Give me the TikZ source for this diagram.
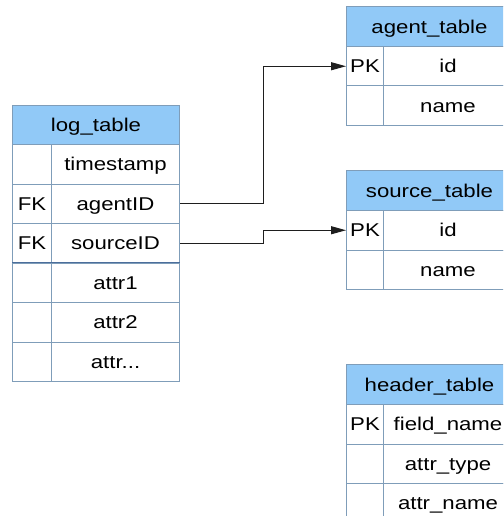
\documentclass[tikz,border=0pt]{standalone}
\usepackage{fontspec}
\newfontfamily\tblfont[FakeStretch=1.2]{Liberation Sans}
\usetikzlibrary{arrows.meta}
\definecolor{bcol}{RGB}{127,157,185}
\definecolor{hcol}{RGB}{145,201,247}
\definecolor{dcol}{RGB}{75,110,155}
\definecolor{acol}{RGB}{30,30,30}
\begin{document}
\begin{tikzpicture}[x=1pt,y=-1pt,
  cell/.style={draw=bcol, line width=1pt, anchor=north west, inner sep=0pt,
    font=\fontsize{18.5}{20}\selectfont\tblfont, text height=13.3pt, text depth=0pt},
  head/.style={cell, fill=hcol},
  conn/.style={draw=acol, line width=1pt, -{Triangle[length=15pt,width=8pt]}}]
\clip (0,0) rectangle (503,516);
\fill[white] (0,0) rectangle (503,516);
% log_table
\node[head, minimum width=167pt, minimum height=39pt] (log) at (12,105) {log\_table};
\node[cell, minimum width=39pt, minimum height=39.5pt] (lk1) at (12,144) {};
\node[cell, minimum width=128pt, minimum height=39.5pt] (lf1) at (51,144) {timestamp};
\node[cell, minimum width=39pt, minimum height=39.5pt] (lk2) at (12,183.5) {FK};
\node[cell, minimum width=128pt, minimum height=39.5pt] (lf2) at (51,183.5) {agentID};
\node[cell, minimum width=39pt, minimum height=39.5pt] (lk3) at (12,223) {FK};
\node[cell, minimum width=128pt, minimum height=39.5pt] (lf3) at (51,223) {sourceID};
\node[cell, minimum width=39pt, minimum height=39.5pt] (lk4) at (12,262.5) {};
\node[cell, minimum width=128pt, minimum height=39.5pt] (lf4) at (51,262.5) {attr1};
\node[cell, minimum width=39pt, minimum height=39.5pt] (lk5) at (12,302) {};
\node[cell, minimum width=128pt, minimum height=39.5pt] (lf5) at (51,302) {attr2};
\node[cell, minimum width=39pt, minimum height=39.5pt] (lk6) at (12,341.5) {};
\node[cell, minimum width=128pt, minimum height=39.5pt] (lf6) at (51,341.5) {attr...};
\draw[dcol, line width=1pt] (lk4.north west) -- (lf4.north east);
% agent_table
\node[head, minimum width=166pt, minimum height=40pt] (agent) at (346,6) {agent\_table};
\node[cell, minimum width=37pt, minimum height=39.5pt] (ak1) at (346,46) {PK};
\node[cell, minimum width=129pt, minimum height=39.5pt] (af1) at (383,46) {id};
\node[cell, minimum width=37pt, minimum height=39.5pt] (ak2) at (346,85.5) {};
\node[cell, minimum width=129pt, minimum height=39.5pt] (af2) at (383,85.5) {name};
% source_table
\node[head, minimum width=166pt, minimum height=40pt] (source) at (346,170) {source\_table};
\node[cell, minimum width=37pt, minimum height=39.5pt] (sk1) at (346,210) {PK};
\node[cell, minimum width=129pt, minimum height=39.5pt] (sf1) at (383,210) {id};
\node[cell, minimum width=37pt, minimum height=39.5pt] (sk2) at (346,249.5) {};
\node[cell, minimum width=129pt, minimum height=39.5pt] (sf2) at (383,249.5) {name};
% header_table
\node[head, minimum width=166pt, minimum height=40pt] (header) at (346,364) {header\_table};
\node[cell, minimum width=37pt, minimum height=39.5pt] (hk1) at (346,404) {PK};
\node[cell, minimum width=129pt, minimum height=39.5pt] (hf1) at (383,404) {field\_name};
\node[cell, minimum width=37pt, minimum height=39.5pt] (hk2) at (346,443.5) {};
\node[cell, minimum width=129pt, minimum height=39.5pt] (hf2) at (383,443.5) {attr\_type};
\node[cell, minimum width=37pt, minimum height=39.5pt] (hk3) at (346,483) {};
\node[cell, minimum width=129pt, minimum height=39.5pt] (hf3) at (383,483) {attr\_name};
% connectors
\draw[conn] (lf2.east) -- ++(83.5,0) |- (ak1.west);
\draw[conn] (lf3.east) -- ++(83.5,0) |- (sk1.west);
\end{tikzpicture}
\end{document}
